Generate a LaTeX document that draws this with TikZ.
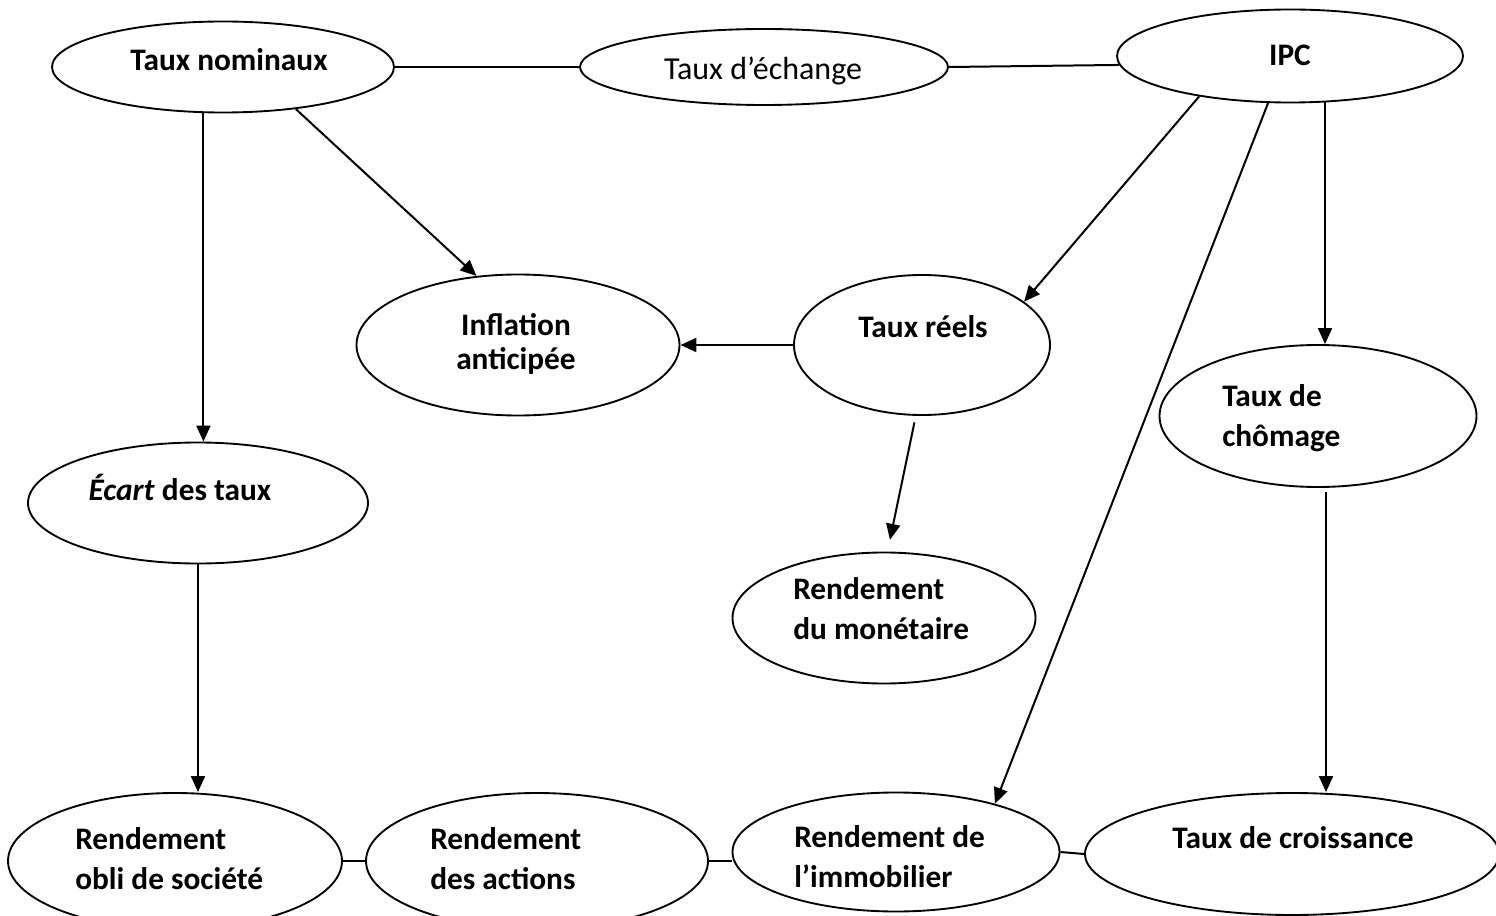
\documentclass[tikz,border=0pt]{standalone}
\usepackage{fontspec}
\setmainfont{Carlito}
\usetikzlibrary{shapes.geometric,arrows.meta}
\begin{document}
\begin{tikzpicture}[x=0.75pt,y=-0.75pt,
  ell/.style 2 args={draw,ellipse,line width=1.4pt,inner sep=0pt,
    minimum width={#1*0.75pt},minimum height={#2*0.75pt}},
  txt/.style={inner sep=0pt,font=\fontsize{23.5}{30}\selectfont\bfseries},
  txtl/.style={txt,align=left,anchor=west},
  arr/.style={-{Triangle[length=12pt,width=10.5pt]},line width=1.5pt},
  lnk/.style={line width=1.5pt}]
\useasboundingbox (0,0) rectangle (1496,916);
% ellipses
\node[ell={342}{91}]  (tn) at (223,67) {};
\node[ell={368}{76}]  (te) at (764,67) {};
\node[ell={346}{93}]  (ipc) at (1290,56) {};
\node[ell={323}{141}] (inf) at (518,345) {};
\node[ell={256}{140}] (tr) at (922,345) {};
\node[ell={317}{142}] (ch) at (1318,416) {};
\node[ell={340}{121}] (ec) at (198,503) {};
\node[ell={303}{131}] (rm) at (884,618) {};
\node[ell={334}{136}] (ob) at (175,861) {};
\node[ell={342}{136}] (ac) at (537,861) {};
\node[ell={327}{119}] (im) at (896,852) {};
\node[ell={414}{122}] (cr) at (1292,854) {};
% texts
\node[txt] (tnt) at (229,60) {Taux nominaux};
\node[inner sep=0pt,font=\fontsize{24}{30}\selectfont] (tet) at (763,71) {Taux d’échange};
\node[txt] (ipct) at (1290,55) {IPC};
\node[txt,align=center,font=\fontsize{23.5}{26}\selectfont\bfseries] (inft) at (516,344) {Inflation\\anticipée};
\node[txt] (trt) at (923,327) {Taux réels};
\node[txtl] (cht) at (1222,418) {Taux de\\chômage};
\node[txt] (ect) at (180,487) {\textit{Écart} des taux};
\node[txtl] (rmt) at (793,609) {Rendement\\du monétaire};
\node[txtl] (obt) at (75,859) {Rendement\\obli de société};
\node[txtl] (act) at (430,859) {Rendement\\des actions};
\node[txtl] (imt) at (794,857) {Rendement de\\l’immobilier};
\node[txt] (crt) at (1293,838) {Taux de croissance};
% plain links
\draw[lnk] (tn.east) -- (te.west);
\draw[lnk] (te.east) -- (ipc.183.7);
\draw[lnk] (ob.east) -- (ac.west);
\draw[lnk] (ac.east) -- (ac.east -| im.west);
\draw[lnk] (im.east) -- (cr.west);
% arrows
\draw[arr] (tn.-113.5) -- (tn.-113.5 |- ec.north);
\draw[arr] (tn.-30.3) -- (inf.121);
\draw[arr] (ipc.204.2) -- (tr.23.6);
\draw[arr] (ipc.-115) -- (im.26.3);
\draw[arr] (ipc.-53.3) -- (ipc.-53.3 |- ch.north);
\draw[arr] (tr.west) -- (inf.east);
\draw[arr,shorten <=5pt,shorten >=9pt] (tr.-95.2) -- (rm.87);
\draw[arr] (ec.south) -- (ec.south |- ob.north);
\draw[arr,shorten <=3pt] ([xshift=6pt]ch.south) -- ([xshift=6pt]ch.south |- cr.north);
\end{tikzpicture}
\end{document}
